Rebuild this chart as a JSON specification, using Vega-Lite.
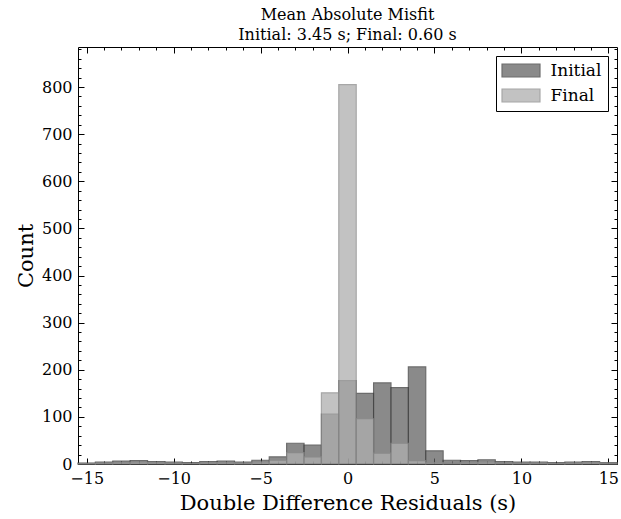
{
  "$schema": "https://vega.github.io/schema/vega-lite/v6.json",
  "width": 539,
  "height": 417,
  "autosize": "none",
  "padding": {"left": 78, "top": 47, "right": 4, "bottom": 55},
  "title": {
    "text": ["Mean Absolute Misfit", "Initial: 3.45 s; Final: 0.60 s"],
    "font": "DejaVu Serif", "fontSize": 16, "fontWeight": "normal", "lineHeight": 20,
    "offset": 4, "anchor": "middle", "frame": "group", "color": "black"
  },
  "config": {
    "font": "DejaVu Serif",
    "view": {"stroke": "black", "strokeWidth": 1},
    "axis": {
      "grid": false, "domain": false, "tickColor": "black", "tickWidth": 1,
      "labelColor": "black", "labelFont": "DejaVu Serif", "labelFontSize": 16,
      "titleFont": "DejaVu Serif", "titleFontSize": 21, "titleFontWeight": "normal", "titleColor": "black"
    }
  },
  "data": {
    "values": [
      {"s": "Initial", "lo": -15.5, "hi": -14.5, "n": 2},
      {"s": "Initial", "lo": -14.5, "hi": -13.5, "n": 4},
      {"s": "Initial", "lo": -13.5, "hi": -12.5, "n": 6},
      {"s": "Initial", "lo": -12.5, "hi": -11.5, "n": 7},
      {"s": "Initial", "lo": -11.5, "hi": -10.5, "n": 5},
      {"s": "Initial", "lo": -10.5, "hi": -9.5, "n": 4},
      {"s": "Initial", "lo": -9.5, "hi": -8.5, "n": 3},
      {"s": "Initial", "lo": -8.5, "hi": -7.5, "n": 5},
      {"s": "Initial", "lo": -7.5, "hi": -6.5, "n": 6},
      {"s": "Initial", "lo": -6.5, "hi": -5.5, "n": 4},
      {"s": "Initial", "lo": -5.5, "hi": -4.5, "n": 8},
      {"s": "Initial", "lo": -4.5, "hi": -3.5, "n": 15},
      {"s": "Initial", "lo": -3.5, "hi": -2.5, "n": 44},
      {"s": "Initial", "lo": -2.5, "hi": -1.5, "n": 40},
      {"s": "Initial", "lo": -1.5, "hi": -0.5, "n": 106},
      {"s": "Initial", "lo": -0.5, "hi": 0.5, "n": 177},
      {"s": "Initial", "lo": 0.5, "hi": 1.5, "n": 150},
      {"s": "Initial", "lo": 1.5, "hi": 2.5, "n": 172},
      {"s": "Initial", "lo": 2.5, "hi": 3.5, "n": 162},
      {"s": "Initial", "lo": 3.5, "hi": 4.5, "n": 206},
      {"s": "Initial", "lo": 4.5, "hi": 5.5, "n": 28},
      {"s": "Initial", "lo": 5.5, "hi": 6.5, "n": 8},
      {"s": "Initial", "lo": 6.5, "hi": 7.5, "n": 7},
      {"s": "Initial", "lo": 7.5, "hi": 8.5, "n": 9},
      {"s": "Initial", "lo": 8.5, "hi": 9.5, "n": 5},
      {"s": "Initial", "lo": 9.5, "hi": 10.5, "n": 4},
      {"s": "Initial", "lo": 10.5, "hi": 11.5, "n": 4},
      {"s": "Initial", "lo": 11.5, "hi": 12.5, "n": 3},
      {"s": "Initial", "lo": 12.5, "hi": 13.5, "n": 4},
      {"s": "Initial", "lo": 13.5, "hi": 14.5, "n": 5},
      {"s": "Initial", "lo": 14.5, "hi": 15.5, "n": 3},
      {"s": "Final", "lo": -15.5, "hi": -14.5, "n": 1},
      {"s": "Final", "lo": -14.5, "hi": -13.5, "n": 2},
      {"s": "Final", "lo": -13.5, "hi": -12.5, "n": 3},
      {"s": "Final", "lo": -12.5, "hi": -11.5, "n": 4},
      {"s": "Final", "lo": -11.5, "hi": -10.5, "n": 3},
      {"s": "Final", "lo": -10.5, "hi": -9.5, "n": 2},
      {"s": "Final", "lo": -9.5, "hi": -8.5, "n": 1},
      {"s": "Final", "lo": -8.5, "hi": -7.5, "n": 3},
      {"s": "Final", "lo": -7.5, "hi": -6.5, "n": 3},
      {"s": "Final", "lo": -6.5, "hi": -5.5, "n": 2},
      {"s": "Final", "lo": -5.5, "hi": -4.5, "n": 4},
      {"s": "Final", "lo": -4.5, "hi": -3.5, "n": 8},
      {"s": "Final", "lo": -3.5, "hi": -2.5, "n": 24},
      {"s": "Final", "lo": -2.5, "hi": -1.5, "n": 15},
      {"s": "Final", "lo": -1.5, "hi": -0.5, "n": 151},
      {"s": "Final", "lo": -0.5, "hi": 0.5, "n": 805},
      {"s": "Final", "lo": 0.5, "hi": 1.5, "n": 96},
      {"s": "Final", "lo": 1.5, "hi": 2.5, "n": 23},
      {"s": "Final", "lo": 2.5, "hi": 3.5, "n": 44},
      {"s": "Final", "lo": 3.5, "hi": 4.5, "n": 7},
      {"s": "Final", "lo": 4.5, "hi": 5.5, "n": 3},
      {"s": "Final", "lo": 5.5, "hi": 6.5, "n": 2},
      {"s": "Final", "lo": 6.5, "hi": 7.5, "n": 3},
      {"s": "Final", "lo": 7.5, "hi": 8.5, "n": 4},
      {"s": "Final", "lo": 8.5, "hi": 9.5, "n": 2},
      {"s": "Final", "lo": 9.5, "hi": 10.5, "n": 2},
      {"s": "Final", "lo": 10.5, "hi": 11.5, "n": 2},
      {"s": "Final", "lo": 11.5, "hi": 12.5, "n": 1},
      {"s": "Final", "lo": 12.5, "hi": 13.5, "n": 2},
      {"s": "Final", "lo": 13.5, "hi": 14.5, "n": 3},
      {"s": "Final", "lo": 14.5, "hi": 15.5, "n": 2}
    ]
  },
  "layer": [
    {
      "transform": [{"filter": "datum.s === 'Initial'"}],
      "mark": {"type": "bar", "opacity": 0.75, "strokeWidth": 1.2},
      "encoding": {
        "x": {"field": "lo", "type": "quantitative",
          "scale": {"domain": [-15.5, 15.5], "nice": false, "zero": false},
          "axis": {"orient": "bottom", "values": [-15, -10, -5, 0, 5, 10, 15], "tickSize": -6, "labelPadding": 12,
            "labelExpr": "replace(datum.label, '-', '\u2212')", "title": "Double Difference Residuals (s)", "titlePadding": 6}},
        "x2": {"field": "hi"},
        "y": {"field": "n", "type": "quantitative",
          "scale": {"domain": [0, 885], "nice": false},
          "axis": {"orient": "left", "values": [0, 100, 200, 300, 400, 500, 600, 700, 800], "tickSize": -6, "labelPadding": 12,
            "title": "Count", "titlePadding": 5}},
        "y2": {"datum": 0},
        "fill": {"field": "s", "type": "nominal",
          "scale": {"domain": ["Initial", "Final"], "range": ["#646464", "#aeaeae"]},
          "legend": {"title": null, "orient": "top-right", "offset": 9, "padding": 6, "strokeColor": "black", "fillColor": "white",
            "cornerRadius": 0, "labelFont": "DejaVu Serif", "labelFontSize": 17, "labelColor": "black",
            "symbolType": "M-2.92,-1H2.92V1H-2.92Z", "symbolSize": 169, "symbolOffset": 10.5, "labelOffset": 21,
            "rowPadding": 6, "symbolOpacity": 0.75, "symbolStrokeWidth": 1.2}},
        "stroke": {"field": "s", "type": "nominal",
          "scale": {"domain": ["Initial", "Final"], "range": ["#3c3c3c", "#8a8a8a"]},
          "legend": {"title": null, "orient": "top-right", "offset": 9, "padding": 6, "strokeColor": "black", "fillColor": "white",
            "cornerRadius": 0, "labelFont": "DejaVu Serif", "labelFontSize": 17, "labelColor": "black",
            "symbolType": "M-2.92,-1H2.92V1H-2.92Z", "symbolSize": 169, "symbolOffset": 10.5, "labelOffset": 21,
            "rowPadding": 6, "symbolOpacity": 0.75, "symbolStrokeWidth": 1.2}}
      }
    },
    {
      "transform": [{"filter": "datum.s === 'Final'"}],
      "mark": {"type": "bar", "opacity": 0.75, "strokeWidth": 1.2},
      "encoding": {
        "x": {"field": "lo", "type": "quantitative",
          "axis": {"orient": "bottom", "values": [-15,-14,-13,-12,-11,-10,-9,-8,-7,-6,-5,-4,-3,-2,-1,0,1,2,3,4,5,6,7,8,9,10,11,12,13,14,15], "tickSize": -3, "labels": false, "title": null}},
        "x2": {"field": "hi"},
        "y": {"field": "n", "type": "quantitative",
          "axis": {"orient": "left", "values": [0,20,40,60,80,100,120,140,160,180,200,220,240,260,280,300,320,340,360,380,400,420,440,460,480,500,520,540,560,580,600,620,640,660,680,700,720,740,760,780,800,820,840,860,880], "tickSize": -3, "labels": false, "title": null}},
        "y2": {"datum": 0},
        "fill": {"field": "s", "type": "nominal"},
        "stroke": {"field": "s", "type": "nominal"}
      }
    },
    {
      "mark": {"type": "bar", "opacity": 0},
      "encoding": {
        "x": {"field": "lo", "type": "quantitative",
          "axis": {"orient": "top", "values": [-15, -10, -5, 0, 5, 10, 15], "tickSize": -6, "labels": false, "title": null}},
        "x2": {"field": "hi"},
        "y": {"field": "n", "type": "quantitative",
          "axis": {"orient": "right", "values": [0, 100, 200, 300, 400, 500, 600, 700, 800], "tickSize": -6, "labels": false, "title": null}},
        "y2": {"datum": 0}
      }
    },
    {
      "mark": {"type": "bar", "opacity": 0},
      "encoding": {
        "x": {"field": "lo", "type": "quantitative",
          "axis": {"orient": "top", "values": [-15,-14,-13,-12,-11,-10,-9,-8,-7,-6,-5,-4,-3,-2,-1,0,1,2,3,4,5,6,7,8,9,10,11,12,13,14,15], "tickSize": -3, "labels": false, "title": null}},
        "x2": {"field": "hi"},
        "y": {"field": "n", "type": "quantitative",
          "axis": {"orient": "right", "values": [0,20,40,60,80,100,120,140,160,180,200,220,240,260,280,300,320,340,360,380,400,420,440,460,480,500,520,540,560,580,600,620,640,660,680,700,720,740,760,780,800,820,840,860,880], "tickSize": -3, "labels": false, "title": null}},
        "y2": {"datum": 0}
      }
    }
  ],
  "resolve": {"axis": {"x": "independent", "y": "independent"}}
}
